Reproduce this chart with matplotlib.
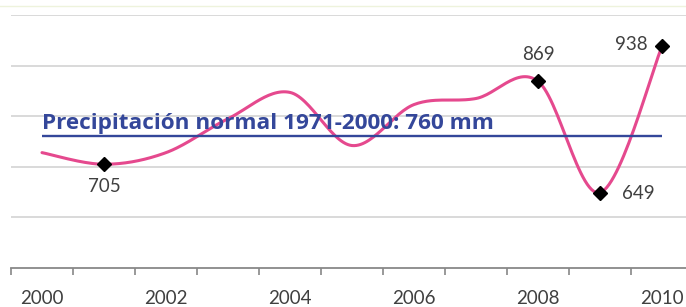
import numpy as np
import matplotlib.pyplot as plt
from matplotlib.lines import Line2D

years = [2000, 2001, 2002, 2003, 2004, 2005, 2006, 2007, 2008, 2009, 2010]
precip = [728, 705, 728, 795, 847, 742, 823, 835, 869, 649, 938]
labelled = {1: '705', 8: '869', 9: '649', 10: '938'}
normal_value = 760
normal_label = 'Precipitación normal 1971-2000: 760 mm'
tick_years = [2000, 2002, 2004, 2006, 2008, 2010]


def smooth(xs, ys, n=30):
    # Excel-like smoothing: Catmull-Rom through every point
    xs = np.asarray(xs, float)
    ys = np.asarray(ys, float)
    px = np.concatenate([[xs[0]], xs, [xs[-1]]])
    py = np.concatenate([[ys[0]], ys, [ys[-1]]])
    outx, outy = [], []
    t = np.linspace(0, 1, n)
    for i in range(1, len(px) - 2):
        p0, p1, p2, p3 = [np.array([px[j], py[j]]) for j in range(i - 1, i + 3)]
        c1 = p1 + (p2 - p0) / 6
        c2 = p2 - (p3 - p1) / 6
        b = ((1 - t) ** 3)[:, None] * p1 + (3 * (1 - t) ** 2 * t)[:, None] * c1 \
            + (3 * (1 - t) * t ** 2)[:, None] * c2 + (t ** 3)[:, None] * p2
        outx.extend(b[:, 0])
        outy.extend(b[:, 1])
    return np.array(outx), np.array(outy)


plt.rcParams['font.family'] = ['Lato', 'DejaVu Sans']
fig = plt.figure(figsize=(6.86, 3.07), dpi=100)
ax = fig.add_axes([11 / 686, 1 - 268 / 307, 1 - 11 / 686, (268 - 15) / 307])

pos = np.arange(len(years))
sx, sy = smooth(pos, precip)
ax.plot(sx, sy, color='#e5498e', lw=2.2, zorder=3, solid_capstyle='round')

ax.hlines(normal_value, 0, pos[-1], color='#34479a', lw=1.7, zorder=4)
ax.text(0, normal_value + 4, normal_label, color='#34479a', fontsize=16.2,
        fontweight='bold', family=['Open Sans', 'DejaVu Sans'],
        ha='left', va='bottom', zorder=5)

for i, txt in labelled.items():
    ax.plot(pos[i], precip[i], marker='D', color='black', ms=7.5, zorder=6)
offsets = {1: (0, -22, 'center'), 8: (0, 27, 'center'), 9: (22, -1, 'left'),
           10: (-14, 2, 'right')}
for i, txt in labelled.items():
    dx, dy, ha = offsets[i]
    ax.annotate(txt, (pos[i], precip[i]), xytext=(dx, dy), textcoords='offset pixels',
                ha=ha, va='center', fontsize=13.5, color='#404040', zorder=6)

ax.set_xlim(-0.5, (686 - 11) / 62 - 0.5)
ax.set_ylim(500, 1000)
ax.set_yticks([600, 700, 800, 900, 1000])
ax.yaxis.grid(True, color='#d9d9d9', lw=1.4)
ax.set_axisbelow(True)
ax.tick_params(axis='y', left=False, labelleft=False)
for s in ['top', 'right', 'left']:
    ax.spines[s].set_visible(False)
ax.spines['bottom'].set_color('#888888')
ax.spines['bottom'].set_linewidth(1.3)

ax.set_xticks([years.index(y) for y in tick_years])
ax.set_xticklabels([str(y) for y in tick_years], fontsize=13.5, color='#404040')
ax.tick_params(axis='x', which='major', length=0, pad=16)
ax.set_xticks(np.arange(len(years)) - 0.5, minor=True)
ax.tick_params(axis='x', which='minor', length=5, width=1.2, color='#888888')

fig.add_artist(Line2D([0, 1], [1 - 6 / 307, 1 - 6 / 307], color='#eef3dc', lw=1))

fig.savefig('out.png', dpi=100)
